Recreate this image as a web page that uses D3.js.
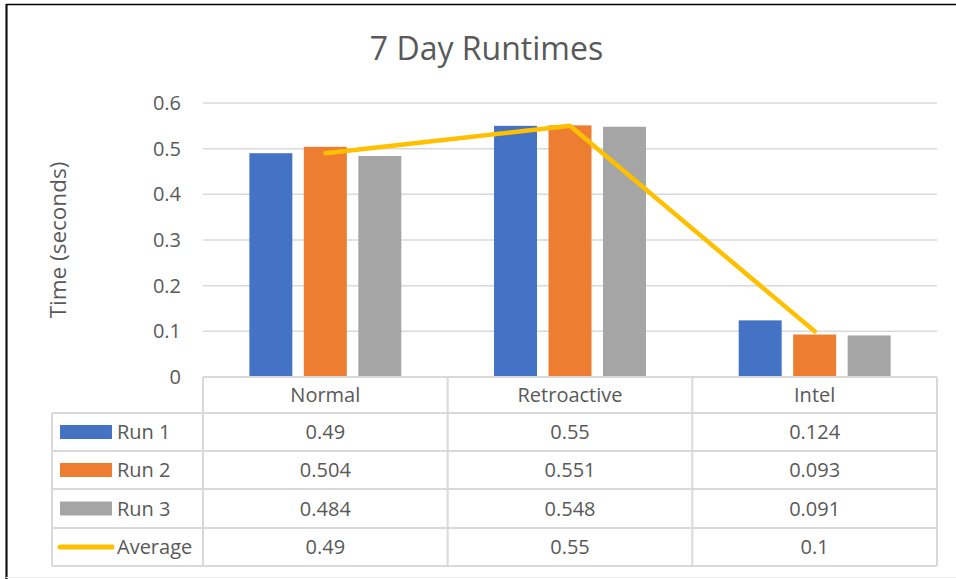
<!DOCTYPE html>
<html>
<head>
<meta charset="utf-8">
<script src="https://cdn.jsdelivr.net/npm/d3@7"></script>
<style>
  html, body { margin: 0; padding: 0; background: #fff; }
  svg { display: block; }
  text { font-family: "Open Sans", sans-serif; fill: #595959; }
</style>
</head>
<body>
<svg id="chart" width="956" height="579"></svg>
<script>
const categories = ["Normal", "Retroactive", "Intel"];
const seriesNames = ["Run 1", "Run 2", "Run 3"];
const run1 = [0.49, 0.55, 0.124];
const run2 = [0.504, 0.551, 0.093];
const run3 = [0.484, 0.548, 0.091];
const average = [0.49, 0.55, 0.1];
const yTicks = [0, 0.1, 0.2, 0.3, 0.4, 0.5, 0.6];
const colors = ["#4472C4", "#ED7D31", "#A5A5A5"];
const avgColor = "#FFC000";
const titleText = "7 Day Runtimes";
const yTitle = "Time (seconds)";

const runs = [run1, run2, run3];

const svg = d3.select("#chart");
const W = 956, H = 579;

// frame
svg.append("line").attr("x1", 6).attr("x2", W).attr("y1", 4.5).attr("y2", 4.5)
  .attr("stroke", "#000").attr("stroke-width", 1.5);
svg.append("line").attr("x1", 6.5).attr("x2", 6.5).attr("y1", 4).attr("y2", H)
  .attr("stroke", "#111").attr("stroke-width", 2.2);
svg.append("line").attr("x1", 6).attr("x2", W).attr("y1", 577.5).attr("y2", 577.5)
  .attr("stroke", "#eeeeee").attr("stroke-width", 1);

const plotL = 203, plotR = 937, plotT = 103, plotB = 377;

const x0 = d3.scaleBand().domain(categories).range([plotL, plotR])
  .paddingInner(0.379).paddingOuter(0.1895);
const x1 = d3.scaleBand().domain(d3.range(seriesNames.length)).range([0, x0.bandwidth()])
  .paddingInner(0.211).paddingOuter(0);
const y = d3.scaleLinear().domain([0, 0.6]).range([plotB, plotT]);

// title
svg.append("text").attr("x", 486.5).attr("y", 60).attr("text-anchor", "middle")
  .style("font-size", "32px").text(titleText);

// gridlines
svg.append("g").selectAll("line").data(yTicks.filter(t => t > 0)).join("line")
  .attr("x1", plotL).attr("x2", plotR)
  .attr("y1", d => y(d)).attr("y2", d => y(d))
  .attr("stroke", "#D9D9D9").attr("stroke-width", 1.5);

// y axis labels
const yAxis = d3.axisLeft(y).tickValues(yTicks).tickSize(0).tickPadding(0)
  .tickFormat(d => d === 0 ? "0" : d3.format(".1f")(d));
const yg = svg.append("g").attr("transform", "translate(181,0)").call(yAxis);
yg.select(".domain").remove();
yg.selectAll("text").style("font-size", "20px").attr("fill", "#595959")
  .style("font-family", "'Open Sans', sans-serif");

// y axis title
svg.append("text").attr("transform", "translate(66,240) rotate(-90)")
  .attr("text-anchor", "middle").style("font-size", "22.5px").text(yTitle);

// bars
const gBars = svg.append("g");
categories.forEach((c, ci) => {
  runs.forEach((arr, si) => {
    gBars.append("rect")
      .attr("x", x0(c) + x1(si))
      .attr("width", x1.bandwidth())
      .attr("y", y(arr[ci]))
      .attr("height", y(0) - y(arr[ci]))
      .attr("fill", colors[si]);
  });
});

// average line
const line = d3.line().x((d, i) => x0(categories[i]) + x0.bandwidth() / 2).y(d => y(d));
svg.append("path").datum(average).attr("d", line)
  .attr("fill", "none").attr("stroke", avgColor).attr("stroke-width", 4.5)
  .attr("stroke-linecap", "round").attr("stroke-linejoin", "round");

// data table
const tableLeft = 52;
const headerTop = plotB, headerBottom = 413;
const rowEdges = [413, 451, 489, 528, 566];
const gridColor = "#D9D9D9";
const tg = svg.append("g");
const colEdges = [plotL].concat(categories.map(c => x0(c) + x0.bandwidth() / 2 + x0.step() / 2));

// horizontal lines
tg.append("line").attr("x1", plotL).attr("x2", plotR).attr("y1", headerTop).attr("y2", headerTop)
  .attr("stroke", gridColor).attr("stroke-width", 2);
rowEdges.forEach(ry => {
  tg.append("line").attr("x1", tableLeft).attr("x2", plotR).attr("y1", ry).attr("y2", ry)
    .attr("stroke", gridColor).attr("stroke-width", 2);
});
// vertical lines
tg.append("line").attr("x1", tableLeft).attr("x2", tableLeft).attr("y1", rowEdges[0]).attr("y2", rowEdges[4])
  .attr("stroke", gridColor).attr("stroke-width", 2);
colEdges.forEach(cx => {
  tg.append("line").attr("x1", cx).attr("x2", cx).attr("y1", headerTop).attr("y2", rowEdges[4])
    .attr("stroke", gridColor).attr("stroke-width", 2);
});

// header text
categories.forEach(c => {
  tg.append("text").attr("x", x0(c) + x0.bandwidth() / 2).attr("y", (headerTop + headerBottom) / 2)
    .attr("dy", "0.35em").attr("text-anchor", "middle").style("font-size", "20px").text(c);
});

const allRows = runs.concat([average]);
const rowNames = seriesNames.concat(["Average"]);
allRows.forEach((arr, ri) => {
  const cy = (rowEdges[ri] + rowEdges[ri + 1]) / 2;
  if (ri < 3) {
    tg.append("rect").attr("x", 60).attr("y", cy - 7).attr("width", 52).attr("height", 14)
      .attr("fill", colors[ri]);
  } else {
    tg.append("line").attr("x1", 60).attr("x2", 112).attr("y1", cy).attr("y2", cy)
      .attr("stroke", avgColor).attr("stroke-width", 5).attr("stroke-linecap", "round");
  }
  tg.append("text").attr("x", 117).attr("y", cy).attr("dy", "0.35em")
    .style("font-size", "20px").text(rowNames[ri]);
  categories.forEach((c, ci) => {
    tg.append("text").attr("x", x0(c) + x0.bandwidth() / 2).attr("y", cy).attr("dy", "0.35em")
      .attr("text-anchor", "middle").style("font-size", "20px").text(String(arr[ci]));
  });
});
</script>
</body>
</html>
